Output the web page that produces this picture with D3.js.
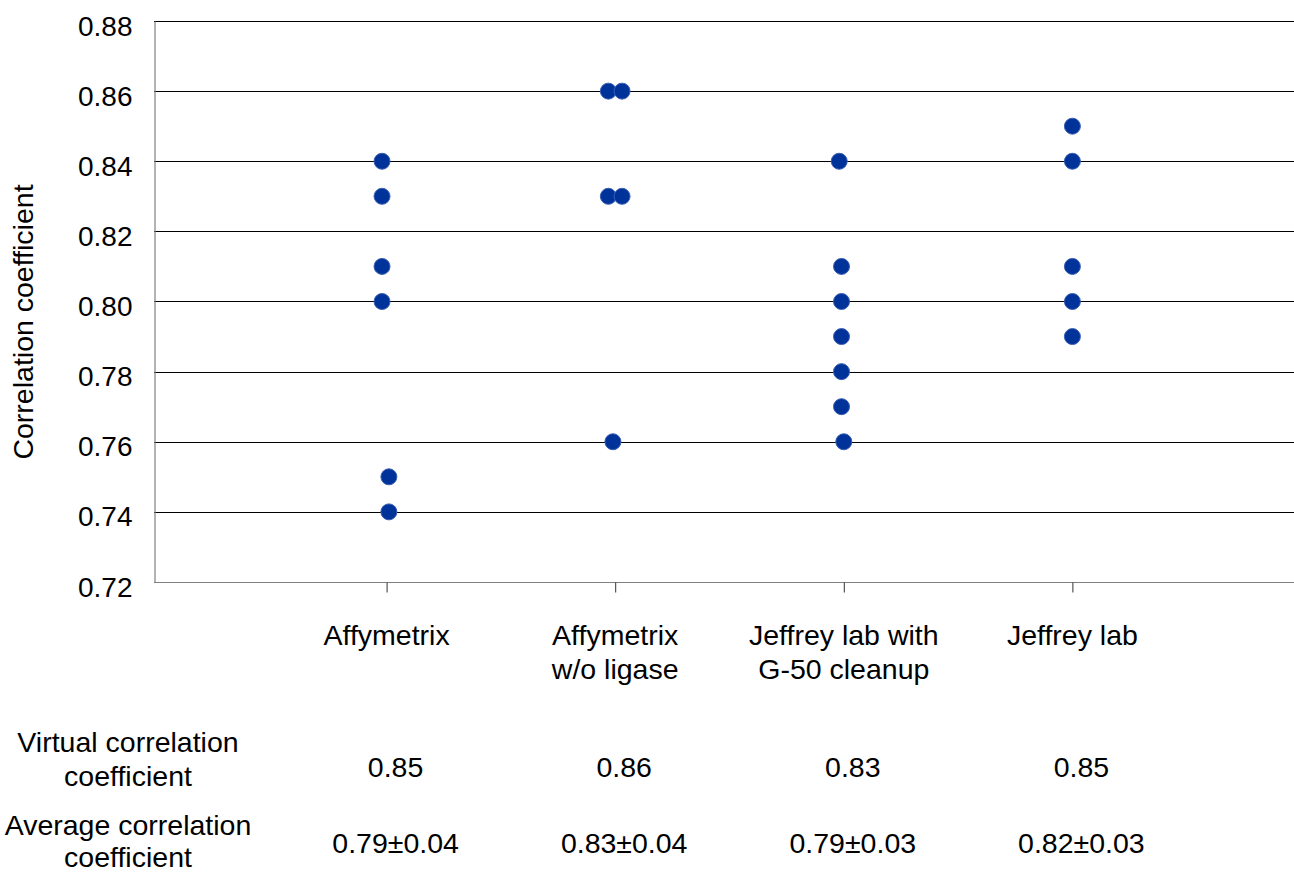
<!DOCTYPE html>
<html>
<head>
<meta charset="utf-8">
<script src="https://cdn.jsdelivr.net/npm/d3@7"></script>
<style>
  body { margin: 0; background: #fff; }
  text { font-family: "Liberation Sans", Arial, Helvetica, sans-serif; fill: #000; }
</style>
</head>
<body>
<svg id="chart" width="1294" height="874"></svg>
<script>
// categories (one entry per line of the label)
var categories = [
  ["Affymetrix"],
  ["Affymetrix", "w/o ligase"],
  ["Jeffrey lab with", "G-50 cleanup"],
  ["Jeffrey lab"]
];

// correlation coefficients per group, x is the group index with a small offset
var affyY   = [0.84, 0.83, 0.81, 0.80, 0.75, 0.74];
var affyX   = [0.98, 0.98, 0.98, 0.98, 1.01, 1.01];
var ligaseY = [0.86, 0.86, 0.83, 0.83, 0.76];
var ligaseX = [1.97, 2.03, 1.97, 2.03, 1.99];
var g50Y    = [0.84, 0.81, 0.80, 0.79, 0.78, 0.77, 0.76];
var g50X    = [2.98, 2.99, 2.99, 2.99, 2.99, 2.99, 3.0];
var jeffY   = [0.85, 0.84, 0.81, 0.80, 0.79];
var jeffX   = [4, 4, 4, 4, 4];

var yTicks = [0.72, 0.74, 0.76, 0.78, 0.80, 0.82, 0.84, 0.86, 0.88];

// table under the chart
var virtualCoef = [0.85, 0.86, 0.83, 0.85];
var avgMean     = [0.79, 0.83, 0.79, 0.82];
var avgSd       = [0.04, 0.04, 0.03, 0.03];

var svg = d3.select("#chart");
var plotLeft = 154, plotTop = 21, plotBottom = 582, plotRight = 1294;

var x = d3.scaleLinear().domain([0, 5]).range([158, 1301]);
var y = d3.scaleLinear().domain([0.72, 0.88]).range([plotBottom, plotTop]);

// gridlines
svg.append("g")
    .selectAll("line")
    .data(yTicks.slice(1))
    .enter().append("line")
    .attr("x1", plotLeft).attr("x2", plotRight)
    .attr("y1", function(d) { return Math.round(y(d)) + 0.5; })
    .attr("y2", function(d) { return Math.round(y(d)) + 0.5; })
    .style("stroke", "#000")
    .style("stroke-width", 1.2);

// y axis
var yAxis = d3.axisLeft(y)
    .tickValues(yTicks)
    .tickSize(0)
    .tickPadding(22)
    .tickFormat(d3.format(".2f"));

var gy = svg.append("g")
    .attr("transform", "translate(" + (plotLeft + 0.5) + ",0)")
    .call(yAxis);
gy.select(".domain").style("stroke", "#808080").style("stroke-width", 1.2);
gy.selectAll("text")
    .style("font-size", "28px")
    .attr("dy", "0.5em");

// x axis
var xAxis = d3.axisBottom(x)
    .tickValues([1, 2, 3, 4])
    .tickSize(10)
    .tickSizeOuter(0)
    .tickFormat("");

var gx = svg.append("g")
    .attr("transform", "translate(0," + (plotBottom + 0.5) + ")")
    .call(xAxis);
gx.select(".domain")
    .attr("d", "M" + plotLeft + ",0H" + plotRight)
    .style("stroke", "#808080").style("stroke-width", 1.2);
gx.selectAll(".tick line").style("stroke", "#333");

// category labels
var catLabels = svg.append("g")
    .selectAll("text")
    .data(categories)
    .enter().append("text")
    .attr("text-anchor", "middle")
    .attr("x", function(d, i) { return x(i + 1); })
    .attr("y", 645)
    .style("font-size", "28.5px");
catLabels.selectAll("tspan")
    .data(function(d) { return d; })
    .enter().append("tspan")
    .attr("x", function() { return d3.select(this.parentNode).attr("x"); })
    .attr("dy", function(d, i) { return i ? 34 : 0; })
    .text(function(d) { return d; });

// points
var groups = [[affyX, affyY], [ligaseX, ligaseY], [g50X, g50Y], [jeffX, jeffY]];
var points = [];
groups.forEach(function(g) {
  g[1].forEach(function(v, j) { points.push({ x: g[0][j], y: v }); });
});

svg.append("g")
    .selectAll("circle")
    .data(points)
    .enter().append("circle")
    .attr("cx", function(d) { return x(d.x); })
    .attr("cy", function(d) { return y(d.y); })
    .attr("r", 8)
    .style("fill", "#003399")
    .style("stroke", "#3a5eb4")
    .style("stroke-width", 1);

// table rows
var rowLabels = [
  { lines: ["Virtual correlation", "coefficient"], y: 752, gap: 34 },
  { lines: ["Average correlation", "coefficient"], y: 835, gap: 32 }
];
rowLabels.forEach(function(r) {
  var t = svg.append("text")
      .attr("text-anchor", "middle")
      .attr("x", 128)
      .attr("y", r.y)
      .style("font-size", "28.5px");
  r.lines.forEach(function(l, i) {
    t.append("tspan").attr("x", 128).attr("dy", i ? r.gap : 0).text(l);
  });
});

svg.append("g")
    .selectAll("text")
    .data(virtualCoef)
    .enter().append("text")
    .attr("text-anchor", "middle")
    .attr("x", function(d, i) { return x(i + 1) + 9; })
    .attr("y", 777)
    .style("font-size", "28.5px")
    .text(function(d) { return d3.format(".2f")(d); });

svg.append("g")
    .selectAll("text")
    .data(avgMean)
    .enter().append("text")
    .attr("text-anchor", "middle")
    .attr("x", function(d, i) { return x(i + 1) + 9; })
    .attr("y", 853)
    .style("font-size", "28.5px")
    .text(function(d, i) { return d3.format(".2f")(d) + "±" + d3.format(".2f")(avgSd[i]); });

// y axis title
svg.append("text")
    .attr("transform", "translate(33,322) rotate(-90)")
    .attr("text-anchor", "middle")
    .style("font-size", "28.5px")
    .text("Correlation coefficient");
</script>
</body>
</html>
